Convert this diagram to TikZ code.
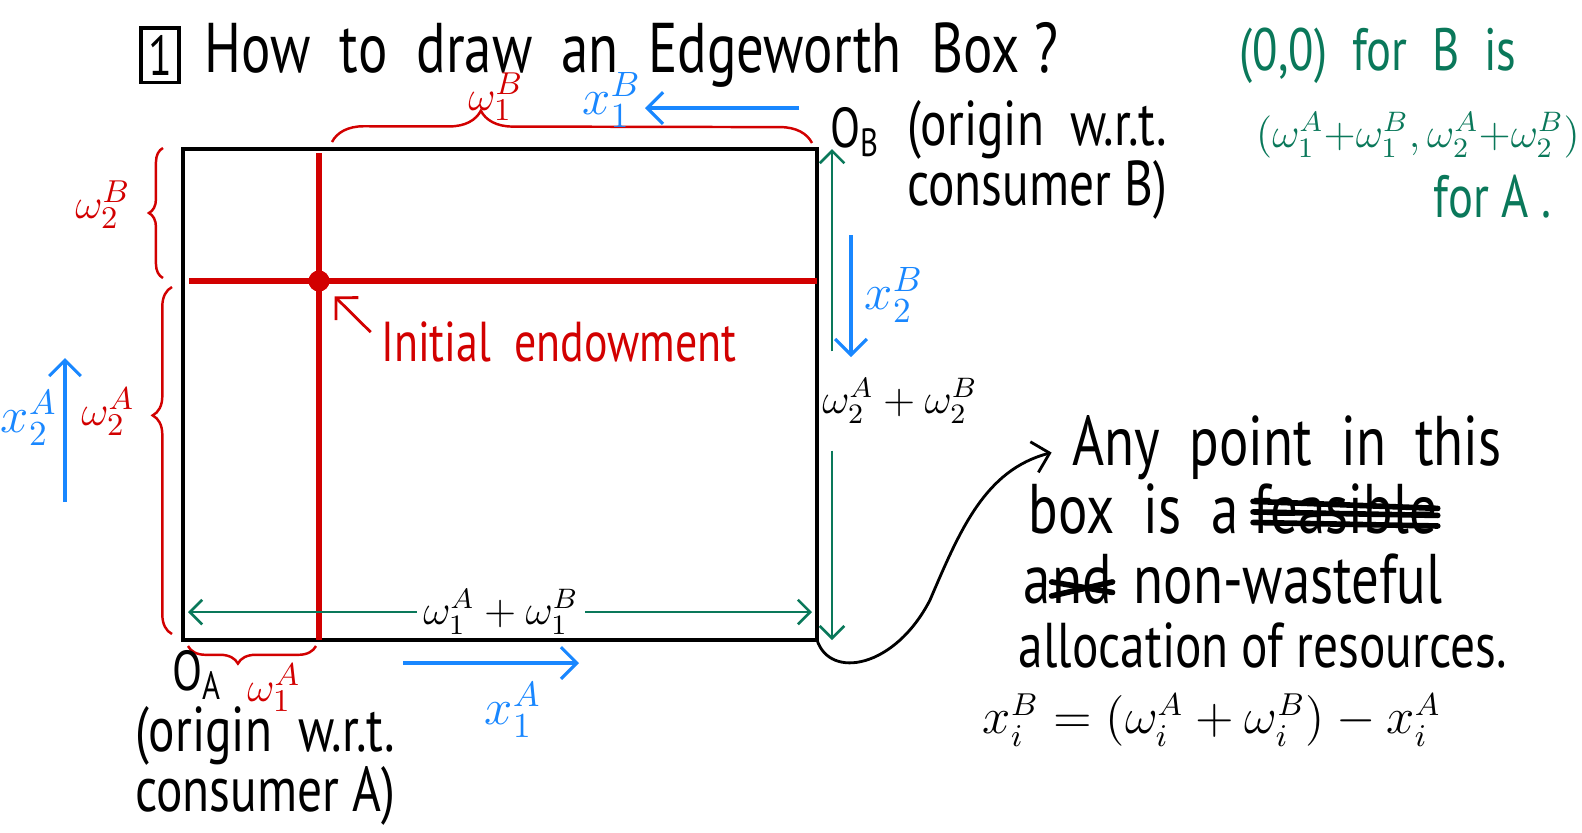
\documentclass[tikz,border=0pt]{standalone}
\usepackage{fontspec}
\setmainfont{PT Sans}[FakeStretch=0.78]
\usetikzlibrary{arrows.meta,decorations.pathreplacing,positioning}
\definecolor{inkred}{RGB}{210,0,0}
\definecolor{inkblue}{RGB}{25,135,255}
\definecolor{inkgreen}{RGB}{10,120,90}
\tikzset{
    frame/.style={draw, line width=0.9pt},
    endow/.style={draw=inkred, line width=1.9pt},
    dotmark/.style={circle, fill=inkred, inner sep=0pt, minimum size=6pt},
    curly/.style={draw=inkred, line width=0.7pt, decorate},
    flowblue/.style={draw=inkblue, line width=0.9pt,
                     -{Straight Barb[length=4.5pt, width=9pt]}},
    flowgreen/.style={draw=inkgreen, line width=0.75pt,
                      -{Straight Barb[length=3.5pt, width=7pt]}},
    pointer/.style={line width=0.8pt, -{Straight Barb[length=4.5pt, width=9pt]}},
    scribble/.style={line width=1.6pt, line cap=round},
    hand/.style={inner sep=0pt, font=\fontsize{20}{22}\selectfont},
    note/.style={inner sep=0pt, align=center, font=\fontsize{18}{17}\selectfont},
    redsym/.style={inner sep=0pt, text=inkred, font=\fontsize{13}{15}\selectfont},
    bluesym/.style={inner sep=0pt, text=inkblue, font=\fontsize{14}{16}\selectfont},
    sumsym/.style={font=\fontsize{12}{14}\selectfont},
    greentext/.style={inner sep=0pt, text=inkgreen, font=\fontsize{17}{19}\selectfont},
}

\begin{document}
\begin{tikzpicture}[x=0.01cm, y=-0.01cm]
    \useasboundingbox (0,0) rectangle (1582,832);

    % title
    \node[draw, line width=0.9pt, minimum width=10.8pt, minimum height=15.4pt,
          inner sep=0pt, font=\fontsize{16}{18}\selectfont] (num) at (160,55) {1};
    \node[hand, anchor=base west] (title) at (204,72)
        {How\ \ to\ \ draw\ \ an\ \ Edgeworth\ \ Box ?};

    % the box
    \coordinate (oa) at (183,640);
    \coordinate (ob) at (817,149);
    \draw[frame] (oa) rectangle (ob);

    % endowment lines
    \coordinate (vtop) at (319,153);
    \coordinate (vbot) at (319,640);
    \coordinate (hleft) at (189,281);
    \coordinate (hright) at (817,281);
    \draw[endow] (vtop) -- (vbot);
    \draw[endow] (hleft) -- (hright);
    \node[dotmark] (dot) at (319,281) {};
    \node[hand, text=inkred, font=\fontsize{16}{18}\selectfont] (endowtext) at (559,342)
        {Initial\ \ endowment};
    \draw[pointer, draw=inkred, shorten <=4pt, shorten >=3pt] (endowtext.west) -- (dot);

    % braces
    \coordinate (topl) at (332,142);
    \coordinate (topr) at (812,143);
    \draw[curly, decoration={brace, amplitude=9pt, aspect=0.31}] (topl) -- (topr);
    \coordinate (ltopb) at (163,278);
    \coordinate (ltopt) at (163,148);
    \draw[curly, decoration={brace, amplitude=4pt, aspect=0.5}] (ltopb) -- (ltopt);
    \coordinate (lbigb) at (172,634);
    \coordinate (lbigt) at (172,287);
    \draw[curly, decoration={brace, amplitude=5.5pt, aspect=0.63}] (lbigb) -- (lbigt);
    \coordinate (botr) at (316,646);
    \coordinate (botl) at (188,646);
    \draw[curly, decoration={brace, amplitude=5pt, aspect=0.61}] (botr) -- (botl);

    \node[redsym] (w1b) at (496,97) {$\omega_1^B$};
    \node[redsym] (w2b) at (103,205) {$\omega_2^B$};
    \node[redsym] (w2a) at (108,412) {$\omega_2^A$};
    \node[redsym] (w1a) at (274,688) {$\omega_1^A$};

    % consumption directions
    \coordinate (x1bs) at (799,108);
    \coordinate (x1be) at (645,108);
    \draw[flowblue] (x1bs) -- (x1be);
    \coordinate (x2bs) at (851,235);
    \coordinate (x2be) at (851,357);
    \draw[flowblue] (x2bs) -- (x2be);
    \coordinate (x2as) at (65,502);
    \coordinate (x2ae) at (65,358);
    \draw[flowblue] (x2as) -- (x2ae);
    \coordinate (x1as) at (403,663);
    \coordinate (x1ae) at (579,663);
    \draw[flowblue] (x1as) -- (x1ae);

    \node[bluesym] (x1b) at (612,100) {$x_1^B$};
    \node[bluesym] (x2b) at (894,295) {$x_2^B$};
    \node[bluesym] (x2a) at (29,418) {$x_2^A$};
    \node[bluesym] (x1a) at (513,710) {$x_1^A$};

    % total endowments
    \coordinate (gl) at (188,612);
    \coordinate (gr) at (812,612);
    \node[sumsym, inner sep=1.7pt] (wsumone) at (501,612) {$\omega_1^A + \omega_1^B$};
    \draw[flowgreen] (wsumone.west) -- (gl);
    \draw[flowgreen] (wsumone.east) -- (gr);
    \coordinate (gt) at (832,149);
    \coordinate (gb) at (832,640);
    \node[sumsym, inner sep=7.5pt] (wsumtwo) at (900,401) {$\omega_2^A + \omega_2^B$};
    \draw[flowgreen] (wsumtwo.north -| gt) -- (gt);
    \draw[flowgreen] (wsumtwo.south -| gb) -- (gb);

    % origins
    \node[note, anchor=base west, font=\fontsize{16}{18}\selectfont] (obname) at (830,147)
        {O\textsubscript{B}};
    \node[note] (obnote) at (1037,160) {(origin\ \ w.r.t.\\consumer B)};
    \node[note, anchor=base west, font=\fontsize{16}{18}\selectfont] (oaname) at (172,690)
        {O\textsubscript{A}};
    \node[note] (oanote) at (265,766) {(origin\ \ w.r.t.\\consumer A)};

    % origin of B for A
    \node[greentext, anchor=base west] (zero) at (1239,70) {(0,0)\ \ for\ \ B\ \ is};
    \node[greentext, font=\fontsize{12}{14}\selectfont] (zerob) at (1418,135)
        {$\bigl(\omega_1^A{+}\omega_1^B,\omega_2^A{+}\omega_2^B\bigr)$};
    \node[greentext, anchor=base west] (zeroa) at (1433,217) {for A .};

    % remark
    \node[hand, anchor=base west] (anyone) at (1072,465) {Any\ \ point\ \ in\ \ this};
    \node[hand, anchor=base west] (anytwo) at (1028,533) {box\ \ is\ \ a};
    \node[hand, anchor=base west, xshift=4pt] (feas) at (anytwo.base east) {feasible};
    \node[hand, anchor=base west] (anda) at (1023,603) {a};
    \node[hand, anchor=base west] (andnd) at (anda.base east) {nd};
    \node[hand, anchor=base west] (anythree) at (1133,603) {non-wasteful};
    \node[hand, anchor=base west, font=\fontsize{18}{20}\selectfont] (anyfour) at (1018,667)
        {allocation of resources.};
    \draw[scribble] ([yshift=3pt]feas.base west) -- ([yshift=2pt]feas.base east);
    \draw[scribble] ([yshift=6pt]feas.base west) -- ([yshift=5pt]feas.base east);
    \draw[scribble] ([yshift=9pt]feas.base west) -- ([yshift=7pt]feas.base east);
    \draw[scribble] ([yshift=2pt]andnd.base west) -- ([yshift=6pt]andnd.base east);
    \draw[scribble] ([yshift=6pt]andnd.base west) -- ([yshift=3pt]andnd.base east);

    \coordinate (br) at (817,640);
    \draw[pointer, shorten >=6pt] (br) .. controls (830,680) and (895,668) .. (930,600)
        .. controls (960,530) and (985,470) .. (anyone.west);

    \node[hand, font=\fontsize{13.5}{16}\selectfont] (formula) at (1212,720)
        {$x_i^B = \bigl(\omega_i^A+\omega_i^B\bigr) - x_i^A$};
\end{tikzpicture}
\end{document}
